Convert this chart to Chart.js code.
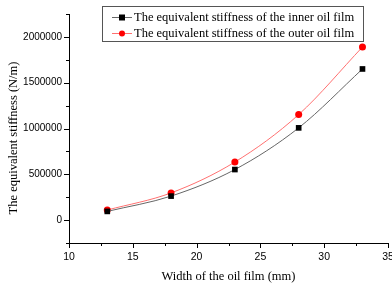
<!DOCTYPE html>
<html>
<head>
<meta charset="utf-8">
<script src="https://cdn.jsdelivr.net/npm/chart.js@4"></script>
<style>
  html,body{margin:0;padding:0;background:#fff;}
  #wrap{width:392px;height:284px;position:relative;}
</style>
</head>
<body>
<div id="wrap"><canvas id="c" width="392" height="284"></canvas></div>
<script>
// data
const widths=[13,18,23,28,33];
const innerStiff=[95000,262000,552000,1007000,1650000];
const outerStiff=[110000,297000,634000,1152000,1890000];
const labels=["The equivalent stiffness of the inner oil film","The equivalent stiffness of the outer oil film"];
const xTicks=[10,15,20,25,30,35];
const yTicks=[0,500000,1000000,1500000,2000000];

const serif="'Liberation Serif','Times New Roman',serif";
const sans="'Liberation Sans',Arial,sans-serif";

// ticks, y title and boxed legend
const decor={
  id:'decor',
  afterDraw(chart){
    const ctx=chart.ctx, xs=chart.scales.x, ys=chart.scales.y, a=chart.chartArea;
    ctx.save();
    ctx.strokeStyle='#000'; ctx.lineWidth=1;
    // x ticks
    for(let v=10;v<=35;v+=2.5){
      const px=Math.round(xs.getPixelForValue(v))+0.5, len=(v%5===0)?5:3;
      ctx.beginPath(); ctx.moveTo(px,a.bottom); ctx.lineTo(px,a.bottom+len); ctx.stroke();
    }
    // y ticks
    for(let v=-250000;v<=2250000;v+=250000){
      const py=Math.round(ys.getPixelForValue(v))+0.5, len=(v%500000===0)?5:3;
      ctx.beginPath(); ctx.moveTo(a.left,py); ctx.lineTo(a.left-len,py); ctx.stroke();
    }
    // y title
    ctx.fillStyle='#000'; ctx.font='12.5px '+serif;
    ctx.translate(14,138); ctx.rotate(-Math.PI/2);
    ctx.textAlign='center'; ctx.textBaseline='middle';
    ctx.fillText('The equivalent stiffness (N/m)',0,0);
    ctx.restore();

    // legend
    ctx.save();
    ctx.strokeStyle='#555'; ctx.lineWidth=1;
    ctx.strokeRect(102.5,6.5,261,35);
    chart.data.datasets.forEach((ds,i)=>{
      const y=17+i*16;
      ctx.strokeStyle=ds.borderColor; ctx.lineWidth=1;
      ctx.beginPath(); ctx.moveTo(112,y+0.5); ctx.lineTo(132,y+0.5); ctx.stroke();
      ctx.fillStyle=ds.pointBackgroundColor;
      if(ds.pointStyle==='rect'){ ctx.fillRect(119,y-2.5,6,6); }
      else { ctx.beginPath(); ctx.arc(122,y+0.5,3,0,Math.PI*2); ctx.fill(); }
      ctx.fillStyle='#000'; ctx.font='12.5px '+serif;
      ctx.textAlign='left'; ctx.textBaseline='middle';
      ctx.fillText(ds.label,134,y+1);
    });
    ctx.restore();
  }
};

new Chart(document.getElementById('c'),{
  type:'line',
  data:{
    datasets:[
      {label:labels[0],data:widths.map((w,i)=>({x:w,y:innerStiff[i]})),
       borderColor:'#666',borderWidth:1,pointStyle:'rect',pointRadius:4,
       pointBackgroundColor:'#000',pointBorderColor:'#000',pointBorderWidth:0,
       cubicInterpolationMode:'monotone'},
      {label:labels[1],data:widths.map((w,i)=>({x:w,y:outerStiff[i]})),
       borderColor:'#ff7070',borderWidth:1,pointStyle:'circle',pointRadius:3.5,
       pointBackgroundColor:'#ff0000',pointBorderColor:'#ff0000',pointBorderWidth:0,
       cubicInterpolationMode:'monotone'}
    ]
  },
  options:{
    responsive:false,animation:false,
    layout:{padding:{left:0,right:4,top:14,bottom:0}},
    plugins:{legend:{display:false},tooltip:{enabled:false}},
    scales:{
      x:{type:'linear',min:10,max:35,
        afterBuildTicks:s=>{s.ticks=xTicks.map(v=>({value:v}));},
        afterFit:s=>{s.height=41;s.paddingLeft=0;s.paddingRight=0;},
        grid:{display:false,drawTicks:false},
        border:{color:'#000',width:1},
        ticks:{padding:8,color:'#000',font:{family:sans,size:10.5},maxRotation:0,autoSkip:false,callback:v=>String(v)},
        title:{display:true,text:'Width of the oil film (mm)',color:'#000',font:{family:serif,size:12.5},padding:{top:3,bottom:0}}
      },
      y:{type:'linear',min:-250000,max:2250000,
        afterBuildTicks:s=>{s.ticks=yTicks.map(v=>({value:v}));},
        afterFit:s=>{s.width=69;s.paddingTop=0;s.paddingBottom=0;},
        grid:{display:false,drawTicks:false},
        border:{color:'#000',width:1},
        ticks:{padding:7,color:'#000',font:{family:sans,size:10},autoSkip:false,callback:v=>String(v)},
        title:{display:false}
      }
    }
  },
  plugins:[decor]
});
</script>
</body>
</html>
